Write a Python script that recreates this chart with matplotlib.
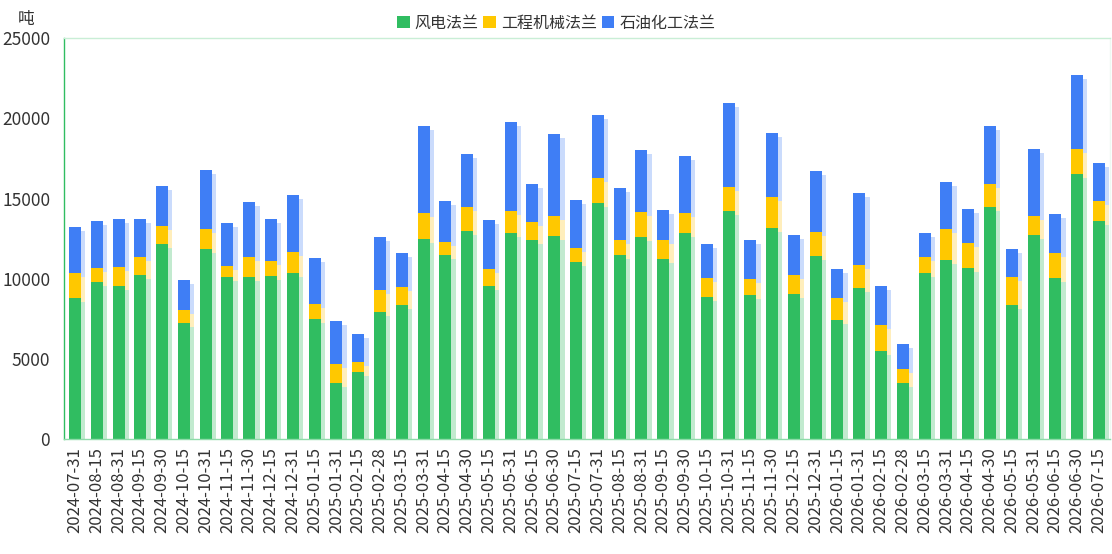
import matplotlib
matplotlib.use("Agg")
import numpy as np
import matplotlib.pyplot as plt

plt.rcParams["font.family"] = ["Noto Sans CJK SC", "DejaVu Sans"]

# Data (tons)
dates = [
    "2024-07-31", "2024-08-15", "2024-08-31", "2024-09-15", "2024-09-30", "2024-10-15",
    "2024-10-31", "2024-11-15", "2024-11-30", "2024-12-15", "2024-12-31", "2025-01-15",
    "2025-01-31", "2025-02-15", "2025-02-28", "2025-03-15", "2025-03-31", "2025-04-15",
    "2025-04-30", "2025-05-15", "2025-05-31", "2025-06-15", "2025-06-30", "2025-07-15",
    "2025-07-31", "2025-08-15", "2025-08-31", "2025-09-15", "2025-09-30", "2025-10-15",
    "2025-10-31", "2025-11-15", "2025-11-30", "2025-12-15", "2025-12-31", "2026-01-15",
    "2026-01-31", "2026-02-15", "2026-02-28", "2026-03-15", "2026-03-31", "2026-04-15",
    "2026-04-30", "2026-05-15", "2026-05-31", "2026-06-15", "2026-06-30", "2026-07-15",
]
wind = [
    8820, 9820, 9570, 10230, 12170, 7260, 11840, 10090, 10130, 10190, 10340, 7470,
    3490, 4200, 7950, 8340, 12500, 11480, 13000, 9570, 12850, 12440, 12670, 11050,
    14750, 11480, 12630, 11250, 12830, 8840, 14250, 9010, 13190, 9050, 11440, 7430,
    9440, 5510, 3470, 10360, 11170, 10690, 14500, 8380, 12750, 10050, 16560, 13620,
]
machinery = [
    1520, 870, 1180, 1120, 1120, 810, 1290, 730, 1250, 940, 1350, 980,
    1210, 620, 1350, 1140, 1580, 830, 1480, 1020, 1370, 1100, 1270, 890,
    1560, 920, 1520, 1170, 1250, 1190, 1480, 970, 1910, 1210, 1500, 1370,
    1420, 1620, 870, 1000, 1960, 1540, 1430, 1750, 1190, 1580, 1540, 1230,
]
petro = [
    2870, 2910, 2970, 2370, 2500, 1850, 3660, 2660, 3410, 2600, 3540, 2850,
    2660, 1730, 3290, 2120, 5450, 2540, 3310, 3080, 5550, 2370, 5100, 2980,
    3910, 3270, 3890, 1870, 3580, 2140, 5240, 2430, 3990, 2480, 3790, 1810,
    4490, 2410, 1580, 1500, 2910, 2120, 3600, 1730, 4160, 2410, 4620, 2370,
]

names = ["风电法兰", "工程机械法兰", "石油化工法兰"]
colors = ["#30bd61", "#ffc800", "#3f7ef5"]
shadow_colors = ["#aee3c0", "#ffe9a6", "#b9cffb"]

fig = plt.figure(figsize=(11.12, 5.54), dpi=100)
ax = fig.add_axes([0.0576, 0.2076, 0.9404, 0.7234])

x = np.arange(len(dates))
w = 0.55
series = [wind, machinery, petro]

# soft shadows offset to the right
bottom = np.zeros(len(dates))
for vals, sc in zip(series, shadow_colors):
    v = np.array(vals)
    ax.bar(x + 0.2, v, w, bottom=bottom - 250, color=sc, alpha=0.75, zorder=1, linewidth=0)
    bottom += v

bottom = np.zeros(len(dates))
for vals, c, n in zip(series, colors, names):
    v = np.array(vals)
    ax.bar(x, v, w, bottom=bottom, color=c, label=n, zorder=2, linewidth=0)
    bottom += v

ax.set_xlim(-0.5, len(dates) - 0.5)
ax.set_ylim(0, 25000)
ax.set_yticks([0, 5000, 10000, 15000, 20000, 25000])
ax.set_xticks(x)
ax.set_xticklabels(dates, rotation=90, fontsize=12, color="#333333")
ax.tick_params(axis="y", labelsize=12.5, colors="#333333", length=0, pad=10)
ax.tick_params(axis="x", length=0, pad=6)

ax.spines["left"].set_color("#30bd61")
ax.spines["top"].set_color("#c9eed6")
ax.spines["bottom"].set_color("#8fdcaa")
ax.spines["right"].set_color("#eef9f2")
for s in ax.spines.values():
    s.set_linewidth(1)

fig.text(0.016, 0.965, "吨", fontsize=12, color="#333333", ha="left", va="center")

handles, labels = ax.get_legend_handles_labels()
fig.legend(handles, labels, loc="center", bbox_to_anchor=(0.5, 0.958), ncol=3, frameon=False,
           fontsize=11.5, handlelength=0.8, handleheight=0.8, handletextpad=0.3,
           columnspacing=0.3, labelcolor="#333333")

fig.savefig("out.png", dpi=100)
